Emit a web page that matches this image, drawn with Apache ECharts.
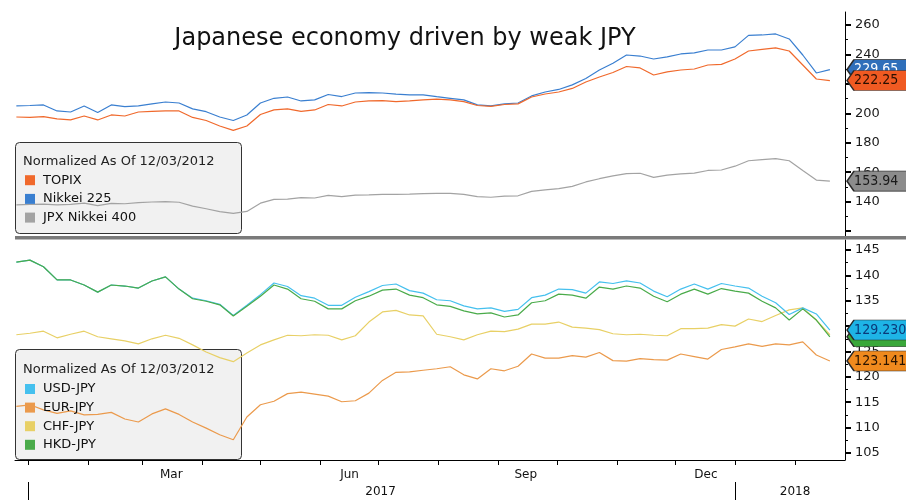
<!DOCTYPE html>
<html>
<head>
<meta charset="utf-8">
<script src="https://cdn.jsdelivr.net/npm/echarts@6/dist/echarts.min.js"></script>
<style>html,body{margin:0;padding:0;background:#fff}#c{width:906px;height:500px}</style>
</head>
<body>
<div id="c"></div>
<script>
// ---- data (weekly samples) ----
const dates = ['2016-12-26','2017-01-02','2017-01-09','2017-01-16','2017-01-23','2017-01-30','2017-02-06','2017-02-13','2017-02-20','2017-02-27',
'2017-03-06','2017-03-13','2017-03-20','2017-03-27','2017-04-03','2017-04-10','2017-04-17','2017-04-24','2017-05-01','2017-05-08',
'2017-05-15','2017-05-22','2017-05-29','2017-06-05','2017-06-12','2017-06-19','2017-06-26','2017-07-03','2017-07-10','2017-07-17',
'2017-07-24','2017-07-31','2017-08-07','2017-08-14','2017-08-21','2017-08-28','2017-09-04','2017-09-11','2017-09-18','2017-09-25',
'2017-10-02','2017-10-09','2017-10-16','2017-10-23','2017-10-30','2017-11-06','2017-11-13','2017-11-20','2017-11-27','2017-12-04',
'2017-12-11','2017-12-18','2017-12-25','2018-01-01','2018-01-08','2018-01-15','2018-01-22','2018-01-29','2018-02-05','2018-02-12',
'2018-02-19'];

const topix = [197.5,197.2,197.7,196.2,195.5,198.2,195.5,198.9,198.2,200.9,201.3,201.6,201.6,197.2,195.1,191.4,188.4,191.4,199.2,202.3,
203.0,201.3,202.3,206.0,205.0,207.7,208.4,208.6,208.0,208.4,209.1,209.7,209.1,207.9,205.3,204.7,206.0,206.4,211.1,213.1,
214.5,216.9,221.3,224.7,227.7,231.8,230.8,226.0,228.1,229.4,230.1,232.8,233.2,236.9,242.3,243.4,244.4,242.3,232.8,223.3,222.25];
const nikkei = [205.0,205.3,205.7,201.6,200.9,205.0,200.6,205.7,204.5,205.0,206.4,207.7,207.0,203.0,201.1,197.5,195.1,198.9,207.0,210.2,
211.1,208.4,209.1,212.8,211.4,213.8,214.0,213.8,213.1,212.5,212.5,211.3,210.2,209.1,205.7,205.0,206.4,207.0,211.8,214.5,
216.2,219.3,223.7,229.4,234.0,239.6,238.9,236.9,238.3,240.3,241.0,243.0,243.0,245.1,252.9,253.2,253.9,250.5,239.6,227.4,229.65];
const jpx400 = [137.8,138.2,138.4,137.9,138.2,139.0,137.3,138.9,138.6,139.4,139.8,140.0,139.6,137.0,135.2,133.2,132.0,133.4,139.0,141.6,
141.8,142.8,142.5,144.3,143.5,144.4,144.6,144.9,145.0,145.2,145.5,145.6,145.6,145.0,143.4,143.0,143.8,144.0,147.0,148.0,
148.9,150.4,153.4,155.6,157.5,159.0,159.3,156.5,158.0,158.9,159.4,161.2,161.5,164.1,167.8,168.6,169.3,167.8,161.2,154.7,153.94];

const usdjpy = [142.6,143.0,141.7,139.1,139.1,138.1,136.7,138.1,137.9,137.5,138.9,139.7,137.3,135.5,135.0,134.3,132.1,134.1,136.2,138.5,
137.8,136.0,135.5,134.1,134.1,135.7,136.8,138.0,138.3,137.0,136.5,135.2,135.0,134.0,133.4,133.6,132.9,133.3,135.6,136.1,
137.3,137.2,136.5,138.7,138.4,138.9,138.5,136.9,135.8,137.3,138.3,137.3,138.4,137.9,137.5,135.9,134.6,132.3,133.6,132.4,129.23];
const eurjpy = [114.2,114.5,113.5,112.8,113.3,112.5,112.6,113.0,111.7,111.1,112.7,113.7,112.6,111.1,109.9,108.6,107.6,112.1,114.5,115.2,
116.7,117.0,116.6,116.2,115.1,115.3,116.8,119.3,120.9,121.0,121.3,121.6,122.0,120.4,119.6,121.6,121.2,122.1,124.5,123.7,
123.7,124.2,123.9,124.8,123.2,123.1,123.6,123.4,123.3,124.5,124.0,123.5,125.4,125.9,126.5,126.0,126.5,126.3,126.9,124.3,123.141];
const chfjpy = [128.3,128.6,129.0,127.7,128.4,129.0,127.9,127.5,127.1,126.5,127.5,128.2,127.6,126.3,124.9,123.8,123.0,124.7,126.3,127.3,
128.2,128.1,128.3,128.2,127.3,128.1,130.8,132.8,133.1,132.2,132.0,128.4,127.9,127.3,128.3,129.0,128.9,129.4,130.4,130.4,
130.8,129.8,129.6,129.3,128.5,128.3,128.4,128.2,128.1,129.5,129.5,129.6,130.3,130.0,131.4,130.9,132.1,133.2,133.6,131.2,128.3];
const hkdjpy = [142.6,143.0,141.7,139.1,139.1,138.1,136.7,138.1,137.9,137.5,138.9,139.7,137.3,135.4,134.9,134.2,132.0,133.9,135.9,138.1,
137.3,135.4,134.9,133.4,133.4,135.0,135.9,137.1,137.3,136.1,135.6,134.2,133.9,133.0,132.4,132.6,131.8,132.2,134.6,135.0,
136.3,136.1,135.5,137.7,137.3,137.9,137.5,135.9,134.8,136.3,137.3,136.3,137.4,136.9,136.5,134.9,133.6,131.2,133.4,131.2,127.9];

const monthTickDates = ['2017-01-01','2017-02-01','2017-03-01','2017-04-01','2017-05-01','2017-06-01','2017-07-01','2017-08-01',
'2017-09-01','2017-10-01','2017-11-01','2017-12-01','2018-01-01','2018-02-01'];
const monthLabelDates = ['2017-03-16','2017-06-16','2017-09-15','2017-12-17'];
const monthNames = ['Jan','Feb','Mar','Apr','May','Jun','Jul','Aug','Sep','Oct','Nov','Dec'];
const yearTickDates = ['2017-01-01','2018-01-01'];
const yearLabelDates = ['2017-07-02','2018-02-01'];
const topTicks = [120,140,160,180,200,220,240,260];
const topLabels = [140,160,180,200,220,240,260];
const botTicks = [105,110,115,120,125,130,135,140,145];
const legendHeader = 'Normalized As Of 12/03/2012';
const titleText = 'Japanese economy driven by weak JPY';

// ---- helpers ----
const FONT = 'DejaVu Sans';
function ts(s){ const p = s.split('-').map(Number); return new Date(p[0], p[1]-1, p[2]).getTime(); }
const DAY = 86400000;
const xMin = ts('2016-12-25') + 0.3*DAY;
const xMax = ts('2018-02-26') + 0.8*DAY;
function pairs(arr){ return dates.map((d,i)=>[ts(d), arr[i]]); }
function tag(arr, dec, fill, txt, z){
  const v = arr[arr.length-1];
  return {
    symbol: 'path://M0,10L7,0L62,0L62,20L7,20Z',
    symbolSize: [62,20], symbolOffset: [33,0], symbolKeepAspect: false,
    z: z, silent: true, animation: false,
    itemStyle: {color: fill, borderColor: '#2a2a2a', borderWidth: 1},
    label: {show: true, position: 'insideLeft', distance: 8, formatter: v.toFixed(dec), color: txt, fontSize: 14,
      fontFamily: '"DejaVu Sans Condensed", "DejaVu Sans"'},
    data: [{coord: [xMax, v]}]
  };
}
function line(name, arr, color, axisIdx, width, mp){
  const s = {
    name, type: 'line', xAxisIndex: axisIdx, yAxisIndex: axisIdx, data: pairs(arr),
    showSymbol: false, symbol: 'none', color: color,
    lineStyle: {color: color, width: width}
  };
  if (mp) s.markPoint = mp;
  return s;
}

const chart = echarts.init(document.getElementById('c'), null, {renderer: 'canvas'});
const yAxisBase = {
  type: 'value', position: 'right', splitNumber: 8,
  axisLine: {show: true, lineStyle: {color: '#000', width: 1}},
  minorTick: {show: true, splitNumber: 2, length: 3, lineStyle: {color: '#000'}},
  splitLine: {show: false}, minorSplitLine: {show: false}
};
chart.setOption({
  animation: false,
  backgroundColor: '#ffffff',
  grid: [
    {left: 15, right: 61, top: 12, height: 224},
    {left: 15, right: 61, top: 240, height: 220}
  ],
  xAxis: [
    {type: 'value', gridIndex: 0, min: xMin, max: xMax, axisLine: {show: false}, axisTick: {show: false}, axisLabel: {show: false}, splitLine: {show: false}},
    {type: 'value', gridIndex: 1, min: xMin, max: xMax,
      axisLine: {show: true, onZero: false, lineStyle: {color: '#000', width: 1}},
      axisTick: {show: true, customValues: monthTickDates.map(ts), length: 5, lineStyle: {color: '#000'}},
      axisLabel: {customValues: monthLabelDates.map(ts), formatter: v => monthNames[new Date(v).getMonth()], color: '#111', fontSize: 12, fontFamily: FONT, margin: 9},
      splitLine: {show: false}},
    {type: 'value', gridIndex: 1, min: xMin, max: xMax, position: 'bottom', offset: 22,
      axisLine: {show: false, onZero: false},
      axisTick: {show: true, customValues: yearTickDates.map(ts), length: 18, lineStyle: {color: '#000'}},
      axisLabel: {customValues: yearLabelDates.map(ts), formatter: v => String(new Date(v).getFullYear()), color: '#111', fontSize: 12, fontFamily: FONT, margin: 4},
      splitLine: {show: false}}
  ],
  yAxis: [
    Object.assign({}, yAxisBase, {gridIndex: 0, min: 116.7, max: 268.8,
      axisTick: {show: true, customValues: topTicks, length: 6, lineStyle: {color: '#000', width: 2}},
      axisLabel: {customValues: topLabels, color: '#1a1a1a', fontSize: 13, fontFamily: FONT, margin: 10}}),
    Object.assign({}, yAxisBase, {gridIndex: 1, min: 103.62, max: 146.97,
      axisTick: {show: true, customValues: botTicks, length: 6, lineStyle: {color: '#000', width: 2}},
      axisLabel: {customValues: botTicks, color: '#1a1a1a', fontSize: 13, fontFamily: FONT, margin: 10}})
  ],
  legend: [
    {data: ['TOPIX','Nikkei 225','JPX Nikkei 400'], orient: 'vertical', left: 25, top: 172.2, padding: 0,
      itemWidth: 10, itemHeight: 10, itemGap: 2.7, icon: 'rect', selectedMode: false, z: 4,
      textStyle: {fontSize: 13, fontFamily: FONT, color: '#111', lineHeight: 16, padding: [0,0,0,3]}},
    {data: ['USD-JPY','EUR-JPY','CHF-JPY','HKD-JPY'], orient: 'vertical', left: 25, top: 381, padding: 0,
      itemWidth: 10, itemHeight: 10, itemGap: 2.6, icon: 'rect', selectedMode: false, z: 4,
      textStyle: {fontSize: 13, fontFamily: FONT, color: '#111', lineHeight: 16, padding: [0,0,0,3]}}
  ],
  graphic: [
    {type: 'text', x: 405, y: 39, z: 10, style: {text: titleText, fontSize: 24, fontFamily: FONT, fill: '#111', align: 'center', verticalAlign: 'middle'}},
    {type: 'rect', z: 3, shape: {x: 15, y: 236, width: 891, height: 3.5}, style: {fill: '#7a7a7a'}},
    {type: 'rect', z: 3, shape: {x: 15.5, y: 142.5, width: 226, height: 91, r: 4}, style: {fill: 'rgba(238,238,238,0.82)', stroke: '#333', lineWidth: 1}},
    {type: 'rect', z: 3, shape: {x: 15.5, y: 349.5, width: 226, height: 110, r: 4}, style: {fill: 'rgba(238,238,238,0.82)', stroke: '#333', lineWidth: 1}},
    {type: 'text', x: 23, y: 162, z: 10, style: {text: legendHeader, fontSize: 13, fontFamily: FONT, fill: '#222', verticalAlign: 'middle'}},
    {type: 'text', x: 23, y: 370, z: 10, style: {text: legendHeader, fontSize: 13, fontFamily: FONT, fill: '#222', verticalAlign: 'middle'}}
  ],
  series: [
    line('JPX Nikkei 400', jpx400, '#a3a3a3', 0, 1.2, tag(jpx400, 2, '#8c8c8c', '#1a1a1a', 5)),
    line('Nikkei 225', nikkei, '#3a7fd0', 0, 1.2, tag(nikkei, 2, '#2f6fba', '#ffffff', 5)),
    line('TOPIX', topix, '#f0692c', 0, 1.2, tag(topix, 2, '#f05a22', '#2b0f00', 6)),
    line('EUR-JPY', eurjpy, '#eb9a4c', 1, 1.2, tag(eurjpy, 3, '#f08a1e', '#2a1400', 5)),
    line('CHF-JPY', chfjpy, '#e8d066', 1, 1.2, null),
    line('USD-JPY', usdjpy, '#45c0ee', 1, 1.2, tag(usdjpy, 3, '#1eb4e6', '#0a3a7a', 7)),
    line('HKD-JPY', hkdjpy, '#4aab4a', 1, 1.2, tag(hkdjpy, 3, '#3aa83a', '#0a2a0a', 6))
  ]
});
</script>
</body>
</html>
